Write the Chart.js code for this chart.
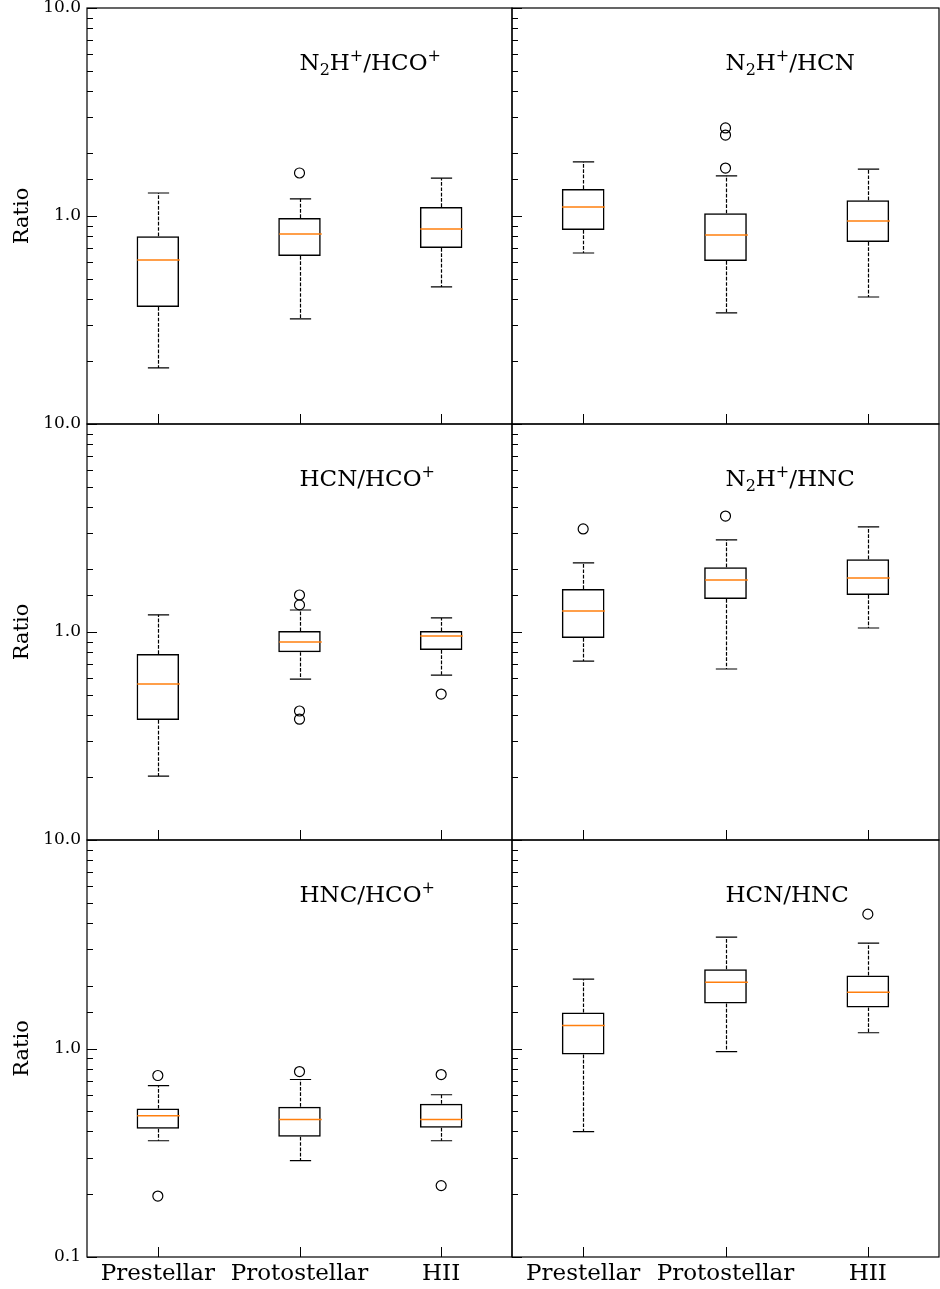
<!DOCTYPE html>
<html>
<head>
<meta charset="utf-8">
<script src="https://cdn.jsdelivr.net/npm/chart.js@4"></script>
<style>
  body { margin: 0; background: #fff; }
  #wrap { position: relative; width: 940px; height: 1289px; overflow: hidden; }
  canvas { position: absolute; }
</style>
</head>
<body>
<div id="wrap"></div>
<script>
const groups = ["Prestellar", "Protostellar", "HII"]
const yTickValues = [0.1, 1, 10]

// each box: [lower whisker, q1, median, q3, upper whisker]
const n2hHcoBoxes = [[0.186, 0.365, 0.614, 0.80, 1.29], [0.32, 0.642, 0.819, 0.978, 1.21], [0.456, 0.702, 0.866, 1.105, 1.52]]
const n2hHcoFliers = [[], [1.61], []]

const n2hHcnBoxes = [[0.664, 0.856, 1.105, 1.35, 1.82], [0.342, 0.608, 0.81, 1.03, 1.56], [0.408, 0.75, 0.946, 1.19, 1.68]]
const n2hHcnFliers = [[], [2.65, 2.45, 1.70], []]

const hcnHcoBoxes = [[0.203, 0.377, 0.562, 0.784, 1.21], [0.594, 0.80, 0.895, 1.01, 1.276], [0.621, 0.82, 0.957, 1.01, 1.168]]
const hcnHcoFliers = [[], [1.506, 1.35, 0.417, 0.381], [0.503]]

const n2hHncBoxes = [[0.725, 0.936, 1.262, 1.61, 2.15], [0.664, 1.44, 1.778, 2.05, 2.77], [1.045, 1.506, 1.82, 2.24, 3.2]]
const n2hHncFliers = [[3.13], [3.61], []]

const hncHcoBoxes = [[0.361, 0.412, 0.476, 0.515, 0.664], [0.29, 0.377, 0.456, 0.526, 0.71], [0.361, 0.417, 0.456, 0.544, 0.60]]
const hncHcoFliers = [[0.742, 0.196], [0.775], [0.75, 0.22]]

const hcnHncBoxes = [[0.399, 0.936, 1.29, 1.49, 2.15], [0.967, 1.645, 2.08, 2.4, 3.42], [1.19, 1.574, 1.86, 2.24, 3.2]]
const hcnHncFliers = [[], [], [4.41]]

// titles as [text, "" | "sub" | "sup"]
const titleN2hHco = [["N", ""], ["2", "sub"], ["H", ""], ["+", "sup"], ["/HCO", ""], ["+", "sup"]]
const titleN2hHcn = [["N", ""], ["2", "sub"], ["H", ""], ["+", "sup"], ["/HCN", ""]]
const titleHcnHco = [["HCN/HCO", ""], ["+", "sup"]]
const titleN2hHnc = [["N", ""], ["2", "sub"], ["H", ""], ["+", "sup"], ["/HNC", ""]]
const titleHncHco = [["HNC/HCO", ""], ["+", "sup"]]
const titleHcnHnc = [["HCN/HNC", ""]]

const panels = [
  { boxes: n2hHcoBoxes, fliers: n2hHcoFliers, title: titleN2hHco, row: 0, col: 0 },
  { boxes: n2hHcnBoxes, fliers: n2hHcnFliers, title: titleN2hHcn, row: 0, col: 1 },
  { boxes: hcnHcoBoxes, fliers: hcnHcoFliers, title: titleHcnHco, row: 1, col: 0 },
  { boxes: n2hHncBoxes, fliers: n2hHncFliers, title: titleN2hHnc, row: 1, col: 1 },
  { boxes: hncHcoBoxes, fliers: hncHcoFliers, title: titleHncHco, row: 2, col: 0 },
  { boxes: hcnHncBoxes, fliers: hcnHncFliers, title: titleHcnHnc, row: 2, col: 1 },
]

const SERIF = "'DejaVu Serif', serif"
const rowTops = [8, 424, 840]
const rowBottoms = [424, 840, 1257]
const TOP_PAD = 12

// whiskers, caps, medians, inward ticks, frame and title
const boxPlugin = {
  id: "boxes",
  afterDatasetsDraw(chart) {
    const p = chart.options.plugins.boxes
    const ctx = chart.ctx
    const y = chart.scales.y
    const bars = chart.getDatasetMeta(0).data
    ctx.save()
    p.boxes.forEach((b, i) => {
      const bar = bars[i]
      const cx = Math.round(bar.x) + 0.5
      const w = bar.width
      const yLow = y.getPixelForValue(b[0])
      const yQ1 = y.getPixelForValue(b[1])
      const yMed = y.getPixelForValue(b[2])
      const yQ3 = y.getPixelForValue(b[3])
      const yHigh = y.getPixelForValue(b[4])
      ctx.strokeStyle = "#000"
      ctx.lineWidth = 1.2
      ctx.setLineDash([3.7, 1.6])
      ctx.beginPath()
      ctx.moveTo(cx, yQ1); ctx.lineTo(cx, yLow)
      ctx.moveTo(cx, yQ3); ctx.lineTo(cx, yHigh)
      ctx.stroke()
      ctx.setLineDash([])
      ctx.beginPath()
      ctx.moveTo(cx - w / 4, yLow); ctx.lineTo(cx + w / 4, yLow)
      ctx.moveTo(cx - w / 4, yHigh); ctx.lineTo(cx + w / 4, yHigh)
      ctx.stroke()
      ctx.strokeStyle = "#ff7f0e"
      ctx.lineWidth = 1.5
      ctx.beginPath()
      ctx.moveTo(cx - w / 2, yMed); ctx.lineTo(cx + w / 2, yMed)
      ctx.stroke()
    })
    ctx.restore()
  },
  afterDraw(chart) {
    const p = chart.options.plugins.boxes
    const ctx = chart.ctx
    const area = chart.chartArea
    const x = chart.scales.x
    const y = chart.scales.y
    ctx.save()
    ctx.strokeStyle = "#000"
    ctx.lineWidth = 1
    ctx.beginPath()
    y.ticks.forEach((t) => {
      const lg = Math.log10(t.value)
      const major = Math.abs(lg - Math.round(lg)) < 1e-6
      const py = Math.round(y.getPixelForValue(t.value)) + 0.5
      ctx.moveTo(area.left, py)
      ctx.lineTo(area.left + (major ? 10 : 6), py)
    })
    groups.forEach((g, i) => {
      const px = Math.round(x.getPixelForValue(i)) + 0.5
      ctx.moveTo(px, area.bottom)
      ctx.lineTo(px, area.bottom - 10)
    })
    ctx.stroke()
    ctx.lineWidth = 1.2
    ctx.strokeRect(area.left, area.top, area.right - area.left, area.bottom - area.top)

    // title with sub/superscripts
    let tx = area.left + (area.right - area.left) * 0.5
    const ty = area.top + 62
    ctx.fillStyle = "#000"
    ctx.textBaseline = "alphabetic"
    ctx.textAlign = "left"
    p.title.forEach(([text, mode]) => {
      const size = mode ? 16 : 23
      ctx.font = size + "px " + SERIF
      const dy = mode === "sub" ? 5 : mode === "sup" ? -9 : 0
      ctx.fillText(text, tx, ty + dy)
      tx += ctx.measureText(text).width
    })
    ctx.restore()
  },
}

const wrap = document.getElementById("wrap")

panels.forEach((panel) => {
  const left = panel.col === 0 ? 0 : 500
  const width = panel.col === 0 ? 513 : 440
  const yAxisWidth = panel.col === 0 ? 87 : 12
  const top = rowTops[panel.row] - TOP_PAD
  const lastRow = panel.row === 2
  const xAxisHeight = lastRow ? 32 : 10
  const height = rowBottoms[panel.row] - top + xAxisHeight

  const canvas = document.createElement("canvas")
  canvas.width = width
  canvas.height = height
  canvas.style.left = left + "px"
  canvas.style.top = top + "px"
  canvas.style.width = width + "px"
  canvas.style.height = height + "px"
  wrap.appendChild(canvas)

  const flierPoints = []
  panel.fliers.forEach((list, i) => list.forEach((v) => flierPoints.push({ x: groups[i], y: v })))

  new Chart(canvas, {
    type: "bar",
    data: {
      labels: groups,
      datasets: [
        {
          data: panel.boxes.map((b) => [b[1], b[3]]),
          backgroundColor: "rgba(0,0,0,0)",
          borderColor: "#000",
          borderWidth: 1.5,
          borderSkipped: false,
          barPercentage: 0.3,
          categoryPercentage: 1,
        },
        {
          type: "scatter",
          data: flierPoints,
          pointStyle: "circle",
          pointRadius: 5,
          pointBorderWidth: 1.2,
          borderColor: "#000",
          backgroundColor: "rgba(0,0,0,0)",
        },
      ],
    },
    options: {
      responsive: false,
      animation: false,
      devicePixelRatio: 1,
      layout: { autoPadding: false, padding: { top: TOP_PAD, right: 1, left: 0, bottom: 0 } },
      plugins: {
        legend: { display: false },
        tooltip: { enabled: false },
        boxes: { boxes: panel.boxes, title: panel.title },
      },
      scales: {
        x: {
          type: "category",
          grid: { display: false, drawTicks: false },
          border: { display: false },
          ticks: {
            display: lastRow,
            color: "#000",
            font: { family: SERIF, size: 23 },
            padding: 3,
            maxRotation: 0,
            autoSkip: false,
          },
          afterFit: (scale) => {
            scale.height = xAxisHeight
            scale.paddingLeft = 0
            scale.paddingRight = 0
          },
        },
        y: {
          type: "logarithmic",
          min: 0.1,
          max: 10,
          grid: { display: false, drawTicks: false },
          border: { display: false },
          title: {
            display: panel.col === 0,
            text: "Ratio",
            color: "#000",
            font: { family: SERIF, size: 21 },
            padding: { top: 10, bottom: 0 },
          },
          ticks: {
            display: panel.col === 0,
            color: "#000",
            font: { family: SERIF, size: 17 },
            padding: 6,
            autoSkip: false,
            callback: (v) => {
              if (!yTickValues.some((t) => Math.abs(t - v) < 1e-9)) return ""
              if (v === 0.1 && !lastRow) return ""
              return v.toFixed(1)
            },
          },
          afterFit: (scale) => {
            scale.width = yAxisWidth
            scale.paddingTop = 0
            scale.paddingBottom = 0
          },
        },
      },
    },
    plugins: [boxPlugin],
  })
})
</script>
</body>
</html>
